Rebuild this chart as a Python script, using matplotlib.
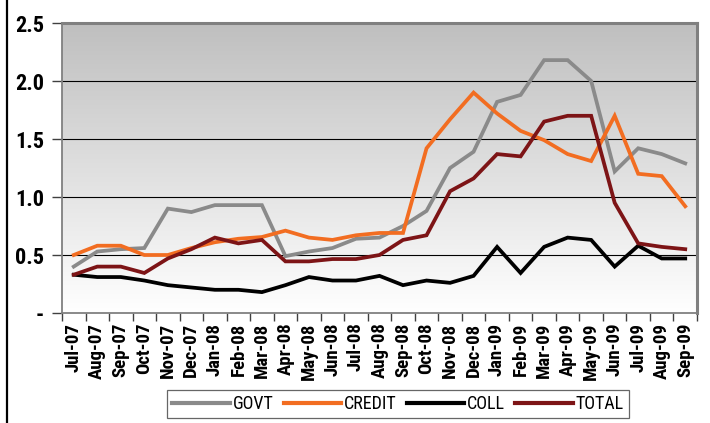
import numpy as np
import matplotlib.pyplot as plt
from matplotlib.lines import Line2D
from matplotlib.colors import LinearSegmentedColormap
from matplotlib import font_manager

months = ["Jul-07", "Aug-07", "Sep-07", "Oct-07", "Nov-07", "Dec-07",
          "Jan-08", "Feb-08", "Mar-08", "Apr-08", "May-08", "Jun-08",
          "Jul-08", "Aug-08", "Sep-08", "Oct-08", "Nov-08", "Dec-08",
          "Jan-09", "Feb-09", "Mar-09", "Apr-09", "May-09", "Jun-09",
          "Jul-09", "Aug-09", "Sep-09"]

govt = [0.40, 0.53, 0.55, 0.56, 0.90, 0.87, 0.93, 0.93, 0.93, 0.49,
        0.53, 0.56, 0.64, 0.65, 0.75, 0.88, 1.25, 1.39, 1.82, 1.88,
        2.18, 2.18, 2.00, 1.22, 1.42, 1.37, 1.29]
credit = [0.50, 0.58, 0.58, 0.50, 0.50, 0.56, 0.61, 0.64, 0.655, 0.71,
          0.65, 0.63, 0.67, 0.69, 0.69, 1.42, 1.67, 1.90, 1.72, 1.57,
          1.49, 1.37, 1.31, 1.70, 1.20, 1.18, 0.92]
coll = [0.33, 0.31, 0.31, 0.28, 0.24, 0.22, 0.20, 0.20, 0.18, 0.24,
        0.31, 0.28, 0.28, 0.32, 0.24, 0.28, 0.26, 0.32, 0.57, 0.345,
        0.57, 0.65, 0.63, 0.40, 0.58, 0.47, 0.47]
total = [0.33, 0.40, 0.40, 0.345, 0.47, 0.55, 0.65, 0.60, 0.63, 0.445,
         0.445, 0.465, 0.465, 0.50, 0.63, 0.67, 1.05, 1.16, 1.37, 1.35,
         1.65, 1.70, 1.70, 0.95, 0.60, 0.57, 0.55]

yticks = [0, 0.5, 1.0, 1.5, 2.0, 2.5]
ytick_labels = ["-", "0.5", "1.0", "1.5", "2.0", "2.5"]

series = [
    ("GOVT", govt, "#8a8a8a"),
    ("CREDIT", credit, "#f26d21"),
    ("COLL", coll, "#000000"),
    ("TOTAL", total, "#7d1416"),
]

# narrow font if one is around, otherwise plain DejaVu
names = {f.name for f in font_manager.fontManager.ttflist}
narrow = [n for n in ["Liberation Sans Narrow", "Roboto Condensed",
                      "Open Sans Condensed", "DejaVu Sans"] if n in names]
label_font = narrow[:1] + ["DejaVu Sans"]

fig = plt.figure(figsize=(7.1, 4.23), dpi=100)
ax = fig.add_axes([62 / 710, 1 - 313 / 423, 635 / 710, 290 / 423])

# gradient background, grey at top fading to white
grad = np.linspace(1, 0, 256).reshape(-1, 1)
cmap = LinearSegmentedColormap.from_list("bg", ["#ffffff", "#bfbfbf"])
ax.imshow(grad, cmap=cmap, aspect="auto", extent=[0, 1, 0, 1],
          transform=ax.transAxes, zorder=0, vmin=0, vmax=1)

x = np.arange(len(months))
for name, vals, col in series:
    ax.plot(x, vals, color=col, lw=2.7, label=name, zorder=3,
            solid_joinstyle="miter")

ax.set_xlim(-0.5, len(months) - 0.5)
ax.set_ylim(0, 2.5)

for v in yticks[1:-1]:
    ax.axhline(v, color="black", lw=0.8, zorder=1)

ax.set_yticks(yticks)
ax.set_yticklabels(ytick_labels, fontsize=16, fontweight="bold",
                   family=label_font, stretch="condensed")
ax.tick_params(axis="y", length=7, width=1, color="#404040", pad=6)

ax.set_xticks(x)
ax.set_xticklabels(months, rotation=90, fontsize=13.5, fontweight="bold",
                   family=label_font, stretch="condensed")
ax.set_xticks(np.arange(len(months) + 1) - 0.5, minor=True)
ax.tick_params(axis="x", which="major", length=0, pad=7)
ax.tick_params(axis="x", which="minor", length=6, width=1, color="#404040")

for side in ["top", "right"]:
    ax.spines[side].set_color("#808080")
    ax.spines[side].set_linewidth(2.2)
for side in ["left", "bottom"]:
    ax.spines[side].set_color("#808080")
    ax.spines[side].set_linewidth(1.3)

leg = ax.legend(loc="center", bbox_to_anchor=(398 / 710, 1 - 404 / 423),
                bbox_transform=fig.transFigure, ncol=4, frameon=True,
                fancybox=False, edgecolor="#404040",
                handlelength=3.2, handletextpad=0.15, columnspacing=0.55,
                borderpad=0.3,
                prop={"family": label_font, "size": 13, "stretch": "condensed"})
leg.get_frame().set_linewidth(0.9)
for line in leg.get_lines():
    line.set_linewidth(3)

# frame line on the left edge of the page
fig.add_artist(Line2D([7 / 710, 7 / 710], [0, 1], color="black", lw=1.6,
                      transform=fig.transFigure))

fig.savefig("out.png", dpi=100)
